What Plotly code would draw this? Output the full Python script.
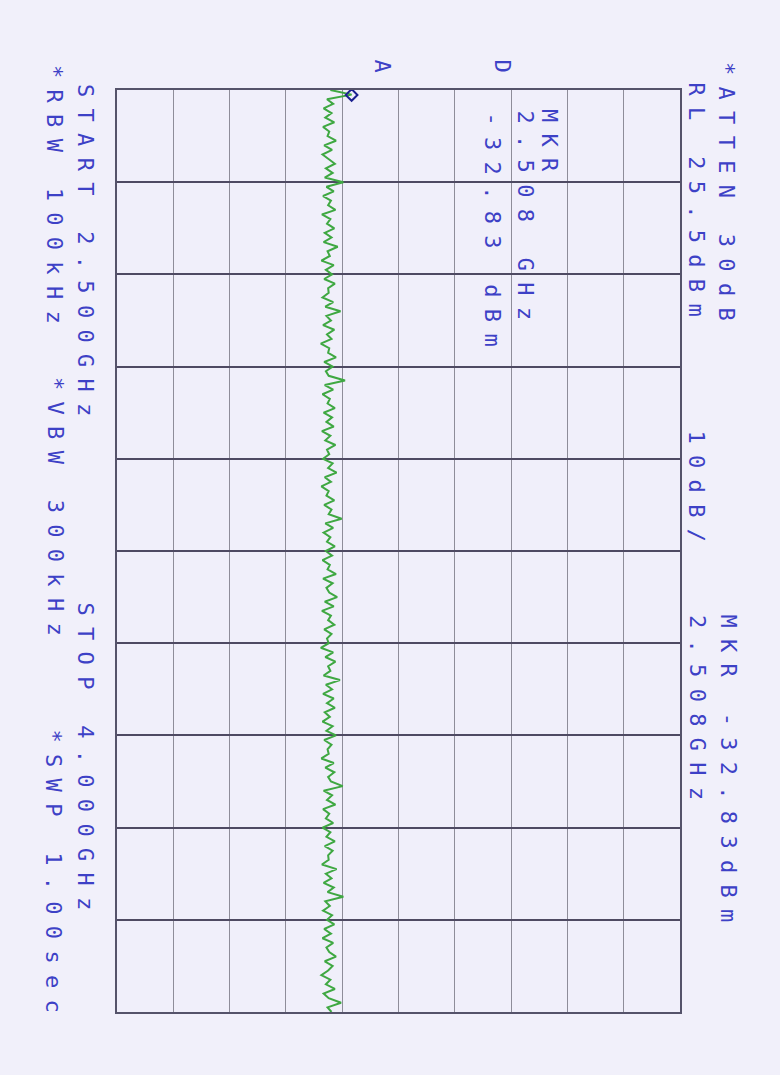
import numpy as np
import plotly.graph_objects as go

# sweep settings read from the plotter annotations
START_GHZ = 2.500
STOP_GHZ = 4.000
REF_LEVEL = 25.5      # dBm
DB_PER_DIV = 10
MKR_FREQ = 2.508      # GHz
MKR_LEVEL = -32.83    # dBm

# trace levels (dBm), top (start) to bottom (stop)
levels = [
    -36.6, -32.83, -37.2, -36.1, -37.8, -36.4, -37.5, -35.9, -37.9, -36.8,
    -37.1, -35.6, -37.7, -36.3, -38.0, -36.9, -35.8, -37.4, -36.2, -37.6,
    -34.3, -37.3, -36.0, -37.9, -36.5, -37.0, -35.7, -38.1, -36.6, -37.2,
    -35.9, -37.6, -36.4, -37.8, -35.3, -37.1, -36.7, -38.2, -36.0, -37.4,
    -36.3, -37.7, -35.8, -37.0, -36.9, -38.0, -36.1, -37.5, -34.8, -37.3,
    -36.5, -37.9, -35.9, -37.2, -36.4, -38.3, -36.8, -37.0, -35.6, -37.7,
    -36.2, -37.4, -36.9, -34.0, -37.6, -36.1, -38.0, -36.7, -37.1, -35.8,
    -37.8, -36.3, -37.3, -36.0, -38.1, -36.6, -37.5, -35.7, -37.2, -36.8,
    -37.9, -36.2, -37.0, -35.5, -37.6, -36.5, -38.2, -36.9, -37.3, -35.9,
    -37.7, -36.4, -36.9, -34.6, -37.5, -36.1, -37.8, -36.6, -37.2, -35.8,
    -37.4, -36.3, -38.0, -36.7, -37.1, -35.6, -37.9, -36.2, -37.3, -36.8,
    -35.4, -37.6, -36.0, -38.1, -36.5, -37.0, -35.9, -37.7, -36.4, -37.2,
    -36.9, -38.3, -36.1, -37.5, -35.7, -37.0, -36.6, -37.8, -34.9, -37.4,
    -36.3, -37.9, -36.0, -37.2, -35.8, -37.6, -36.7, -38.0, -36.2, -37.3,
    -35.6, -37.7, -36.4, -37.1, -36.9, -38.2, -36.0, -37.5, -35.9, -37.0,
    -36.5, -34.4, -37.8, -36.3, -37.2, -35.7, -37.9, -36.8, -37.4, -36.1,
    -38.0, -36.6, -37.3, -35.8, -37.6, -36.2, -37.0, -36.9, -38.1, -35.5,
    -37.4, -36.4, -37.8, -36.0, -37.1, -34.3, -37.5, -36.7, -37.9, -36.3,
    -37.2, -35.9, -37.7, -36.5, -38.0, -36.1, -37.3, -36.8, -35.6, -37.6,
    -36.2, -37.0, -38.2, -36.6, -37.4, -35.8, -37.8, -36.9, -34.7, -37.1,
    -36.4,
]
freqs = np.linspace(START_GHZ, STOP_GHZ, len(levels))

# plot area in pixels
W, H = 780, 1075
L, R, T, B = 117, 680, 90, 1012

BG = "#f1f0fa"
BLUE = "#3d41c6"
FONT = "DejaVu Sans Mono"


def px(x, y):
    return (x - L) / (R - L), (B - y) / (B - T)


def label(fig, text, x, y, size=22, spacing=11.3):
    xp, yp = px(x, y)
    fig.add_annotation(
        text=f'<span style="letter-spacing:{spacing}px">{text}</span>',
        x=xp, y=yp, xref="paper", yref="paper",
        xanchor="center", yanchor="top",
        textangle=90, showarrow=False,
        font=dict(family=FONT, size=size, color=BLUE),
    )


fig = go.Figure()
fig.add_trace(go.Scatter(
    x=levels, y=freqs, mode="lines",
    line=dict(color="#3fa842", width=2),
    hoverinfo="skip", showlegend=False,
))
fig.add_trace(go.Scatter(
    x=[MKR_LEVEL], y=[MKR_FREQ], mode="markers",
    marker=dict(symbol="diamond-open", size=9, color="#1c2290",
                line=dict(width=2)),
    hoverinfo="skip", showlegend=False,
))

# top-right: attenuator / reference level / scale / marker
label(fig, "*ATTEN 30dB", 726, 60)
label(fig, "RL 25.5dBm", 696, 80)
label(fig, "10dB/", 696, 428)
label(fig, "MKR -32.83dBm", 728, 612)
label(fig, "2.508GHz", 698, 613)

# marker readout inside the graticule
label(fig, "MKR", 550, 107)
label(fig, "2.508 GHz", 525, 108)
label(fig, "-32.83 dBm", 492, 110)
label(fig, "A", 382, 57, spacing=0)
label(fig, "D", 502, 57, spacing=0)

# left: start / stop / bandwidths / sweep
label(fig, "START 2.500GHz", 85, 82)
label(fig, "STOP 4.000GHz", 85, 600)
label(fig, "*RBW 100kHz", 55, 63)
label(fig, "*VBW 300kHz", 55, 375)
label(fig, "*SWP 1.00sec", 53, 727)

fig.update_xaxes(
    range=[REF_LEVEL - 10 * DB_PER_DIV, REF_LEVEL],
    tick0=REF_LEVEL, dtick=DB_PER_DIV,
    showgrid=True, gridcolor="#8e8d99", gridwidth=1,
    showline=True, linecolor="#55536a", linewidth=1.5, mirror=True,
    showticklabels=False, ticks="", zeroline=False,
)
fig.update_yaxes(
    range=[STOP_GHZ, START_GHZ],
    tick0=START_GHZ, dtick=(STOP_GHZ - START_GHZ) / 10,
    showgrid=True, gridcolor="#4e4a62", gridwidth=1.6,
    showline=True, linecolor="#55536a", linewidth=1.5, mirror=True,
    showticklabels=False, ticks="", zeroline=False,
)
fig.update_layout(
    width=W, height=H,
    margin=dict(l=L, r=W - R, t=T, b=H - B),
    paper_bgcolor=BG, plot_bgcolor="#f0effa",
    showlegend=False,
)

# page margin off so the figure sits at the window's top-left corner
fig.write_html(
    "out.html",
    config={"displayModeBar": False},
    post_script=f"document.body.style.margin='0';"
                f"document.body.style.background='{BG}';",
)
